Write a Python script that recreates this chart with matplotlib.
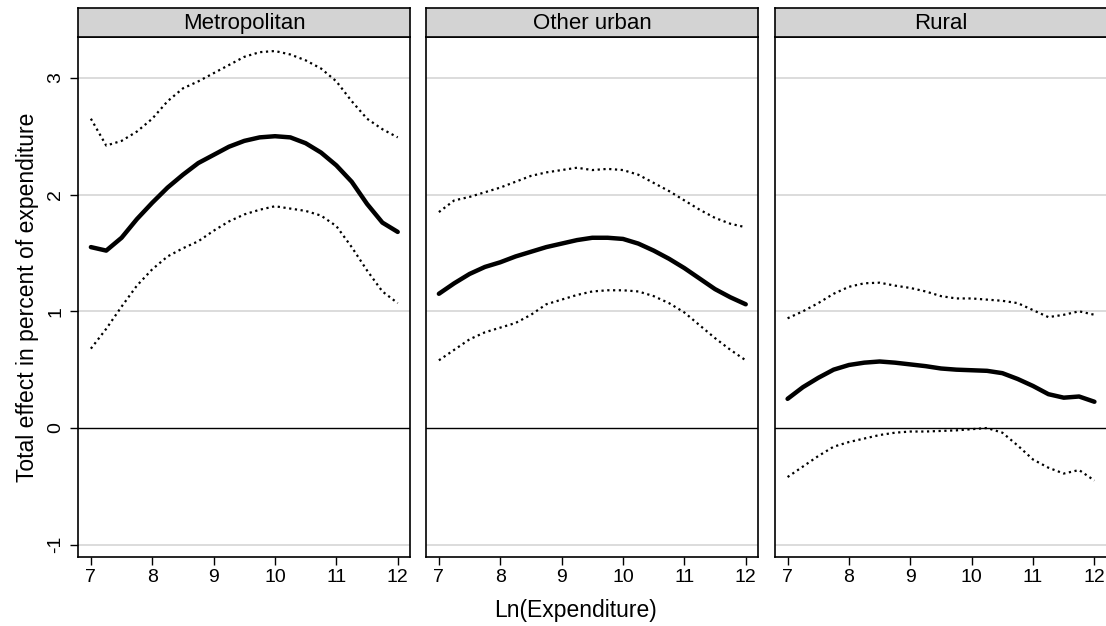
import matplotlib.pyplot as plt

plt.rcParams['font.family'] = ['Liberation Sans', 'DejaVu Sans']

# ln(expenditure) grid shared by all three areas
ln_exp = [7.0, 7.25, 7.5, 7.75, 8.0, 8.25, 8.5, 8.75, 9.0, 9.25, 9.5,
          9.75, 10.0, 10.25, 10.5, 10.75, 11.0, 11.25, 11.5, 11.75, 12.0]

areas = ['Metropolitan', 'Other urban', 'Rural']

metro_est = [1.55, 1.52, 1.63, 1.79, 1.93, 2.06, 2.17, 2.27, 2.34, 2.41, 2.46,
             2.49, 2.50, 2.49, 2.44, 2.36, 2.25, 2.11, 1.92, 1.76, 1.68]
metro_hi = [2.65, 2.42, 2.46, 2.54, 2.65, 2.80, 2.91, 2.97, 3.04, 3.11, 3.18,
            3.22, 3.23, 3.20, 3.15, 3.08, 2.97, 2.80, 2.65, 2.56, 2.49]
metro_lo = [0.68, 0.85, 1.04, 1.22, 1.36, 1.47, 1.54, 1.60, 1.69, 1.77, 1.83,
            1.87, 1.90, 1.88, 1.86, 1.82, 1.73, 1.55, 1.35, 1.17, 1.07]

urban_est = [1.15, 1.24, 1.32, 1.38, 1.42, 1.47, 1.51, 1.55, 1.58, 1.61, 1.63,
             1.63, 1.62, 1.58, 1.52, 1.45, 1.37, 1.28, 1.19, 1.12, 1.06]
urban_hi = [1.85, 1.95, 1.98, 2.02, 2.06, 2.11, 2.16, 2.19, 2.21, 2.23, 2.21,
            2.22, 2.21, 2.17, 2.10, 2.03, 1.95, 1.87, 1.80, 1.75, 1.72]
urban_lo = [0.58, 0.67, 0.76, 0.82, 0.86, 0.90, 0.97, 1.06, 1.10, 1.14, 1.17,
            1.18, 1.18, 1.17, 1.13, 1.07, 0.99, 0.88, 0.77, 0.67, 0.58]

rural_est = [0.25, 0.35, 0.43, 0.50, 0.54, 0.56, 0.57, 0.56, 0.545, 0.53, 0.51,
             0.50, 0.495, 0.49, 0.47, 0.42, 0.36, 0.29, 0.26, 0.27, 0.225]
rural_hi = [0.94, 1.00, 1.07, 1.15, 1.21, 1.24, 1.245, 1.22, 1.20, 1.17, 1.13,
            1.11, 1.11, 1.10, 1.09, 1.07, 1.01, 0.95, 0.97, 1.00, 0.97]
rural_lo = [-0.42, -0.33, -0.24, -0.16, -0.12, -0.09, -0.06, -0.04, -0.03, -0.03, -0.025,
            -0.02, -0.01, 0.0, -0.04, -0.15, -0.27, -0.34, -0.39, -0.36, -0.45]

estimates = [metro_est, urban_est, rural_est]
upper = [metro_hi, urban_hi, rural_hi]
lower = [metro_lo, urban_lo, rural_lo]

fig = plt.figure(figsize=(11.06, 6.26), dpi=100)

W, H = 1106, 626
panel_left = [78, 426, 774.7]
panel_w = 332
plot_top, plot_bot = 37, 557
strip_top = 8

for i, name in enumerate(areas):
    l = panel_left[i] / W
    b = 1 - plot_bot / H
    ax = fig.add_axes([l, b, panel_w / W, (plot_bot - plot_top) / H])
    ax.set_xlim(6.79, 12.2)
    ax.set_ylim(-1.105, 3.35)
    for g in [-1, 1, 2, 3]:
        ax.axhline(g, color='#dcdcdc', lw=1.4, zorder=0)
    ax.axhline(0, color='black', lw=1.0, zorder=1)

    ax.plot(ln_exp, upper[i], color='black', lw=1.6, ls=(0, (1, 1.6)))
    ax.plot(ln_exp, lower[i], color='black', lw=1.6, ls=(0, (1, 1.6)))
    ax.plot(ln_exp, estimates[i], color='black', lw=3.2,
            solid_capstyle='round', solid_joinstyle='round')

    ax.set_xticks([7, 8, 9, 10, 11, 12])
    ax.tick_params(axis='x', length=6, width=1, labelsize=14, pad=3)
    if i == 0:
        ax.set_yticks([-1, 0, 1, 2, 3])
        ax.set_yticklabels(['-1', '0', '1', '2', '3'], rotation=90, va='center')
        ax.tick_params(axis='y', length=6, width=1, labelsize=14, pad=4)
        ax.set_ylabel('Total effect in percent of expenditure', fontsize=16.5, labelpad=6)
    else:
        ax.set_yticks([])
    for s in ax.spines.values():
        s.set_linewidth(1.2)

    # header strip with the area name
    sax = fig.add_axes([l, 1 - plot_top / H, panel_w / W, (plot_top - strip_top) / H])
    sax.set_xticks([])
    sax.set_yticks([])
    sax.set_facecolor('#d3d3d3')
    for s in sax.spines.values():
        s.set_linewidth(1.2)
    sax.text(0.5, 0.47, name, ha='center', va='center', fontsize=16,
             transform=sax.transAxes)

fig.text(575 / W, 1 - 611 / H, 'Ln(Expenditure)', ha='center', va='center', fontsize=16.5)

fig.savefig('out.png', dpi=100)
